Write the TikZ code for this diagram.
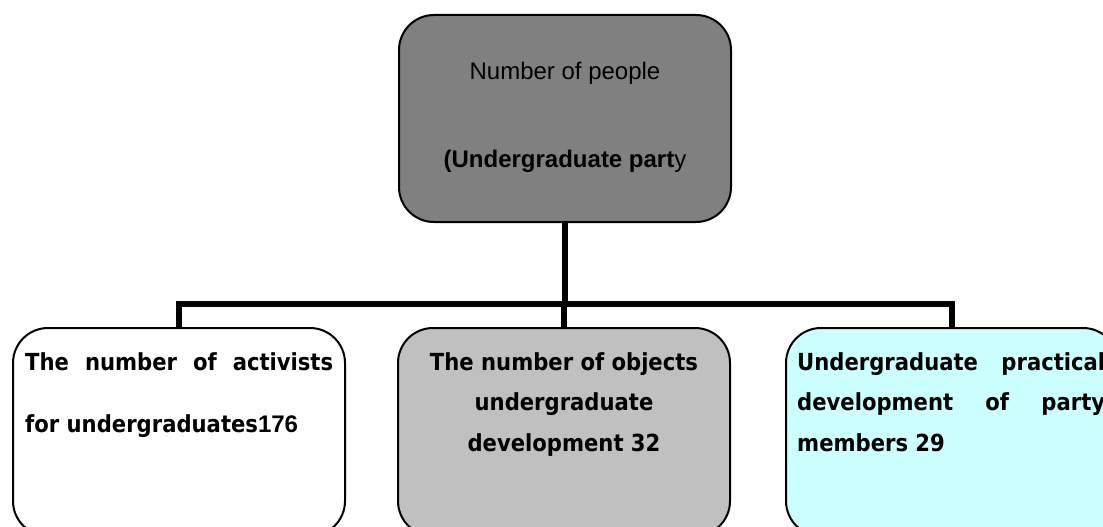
\documentclass[tikz,border=0pt]{standalone}
\usepackage{fontspec}
\setmainfont{Liberation Sans}
\newfontfamily\tahb{DejaVu Sans Condensed Bold}
\newfontfamily\arial{Liberation Sans}
\definecolor{topgray}{HTML}{808080}
\definecolor{midgray}{HTML}{C0C0C0}
\definecolor{lightcyan}{HTML}{CCFFFF}
\tikzset{
  box/.style={draw=black, line width=2pt, rounded corners=35pt, minimum width=332pt, minimum height=208pt, inner sep=0pt},
  conn/.style={draw=black, line width=6pt, line join=miter},
  txt/.style={inner sep=0pt, anchor=base west, text=black},
}
\begin{document}
\begin{tikzpicture}[x=1pt,y=-1pt]
\useasboundingbox (0,0) rectangle (1103,527);
\clip (0,0) rectangle (1103,527);
\fill[white] (0,0) rectangle (1103,527);
% boxes
\node[box, fill=topgray, minimum height=207pt] (top) at (565,118.5) {};
\node[box, fill=white] (left) at (179,432) {};
\node[box, fill=midgray] (mid) at (564,432) {};
\node[box, fill=lightcyan] (right) at (952,432) {};
% connectors
\coordinate (bus) at (565,304);
\draw[conn] (top.south) -- (bus);
\draw[conn] (left.north) |- (bus) -| (right.north);
\draw[conn] (mid.north) -- (mid.north |- bus);
% texts
\node[inner sep=0pt, anchor=base] (toptxt1) at (565,80) {\arial\fontsize{24}{24}\selectfont Number of people};
\node[inner sep=0pt, anchor=base] (toptxt2) at (565,167) {\arial\fontsize{24}{24}\selectfont \textbf{(Undergraduate part}y};
\node[txt] (lefttxt) at (25,370) {\parbox[t]{308pt}{\tahb\fontsize{23.5}{62}\selectfont
  \makebox[308pt][s]{The number of activists}\\
  for undergraduates{\arial\bfseries\fontsize{24}{62}\selectfont 176}}};
\node[inner sep=0pt, anchor=base] (midtxt) at (564,370) {\parbox[t]{320pt}{\centering\tahb\fontsize{23.5}{40.5}\selectfont
  The number of objects\\ undergraduate\\ development 32}};
\node[txt] (righttxt) at (797,370) {\parbox[t]{308pt}{\tahb\fontsize{23.5}{40.5}\selectfont
  \makebox[308pt][s]{Undergraduate practical}\\
  \makebox[308pt][s]{development of party}\\
  members 29}};
\end{tikzpicture}
\end{document}
